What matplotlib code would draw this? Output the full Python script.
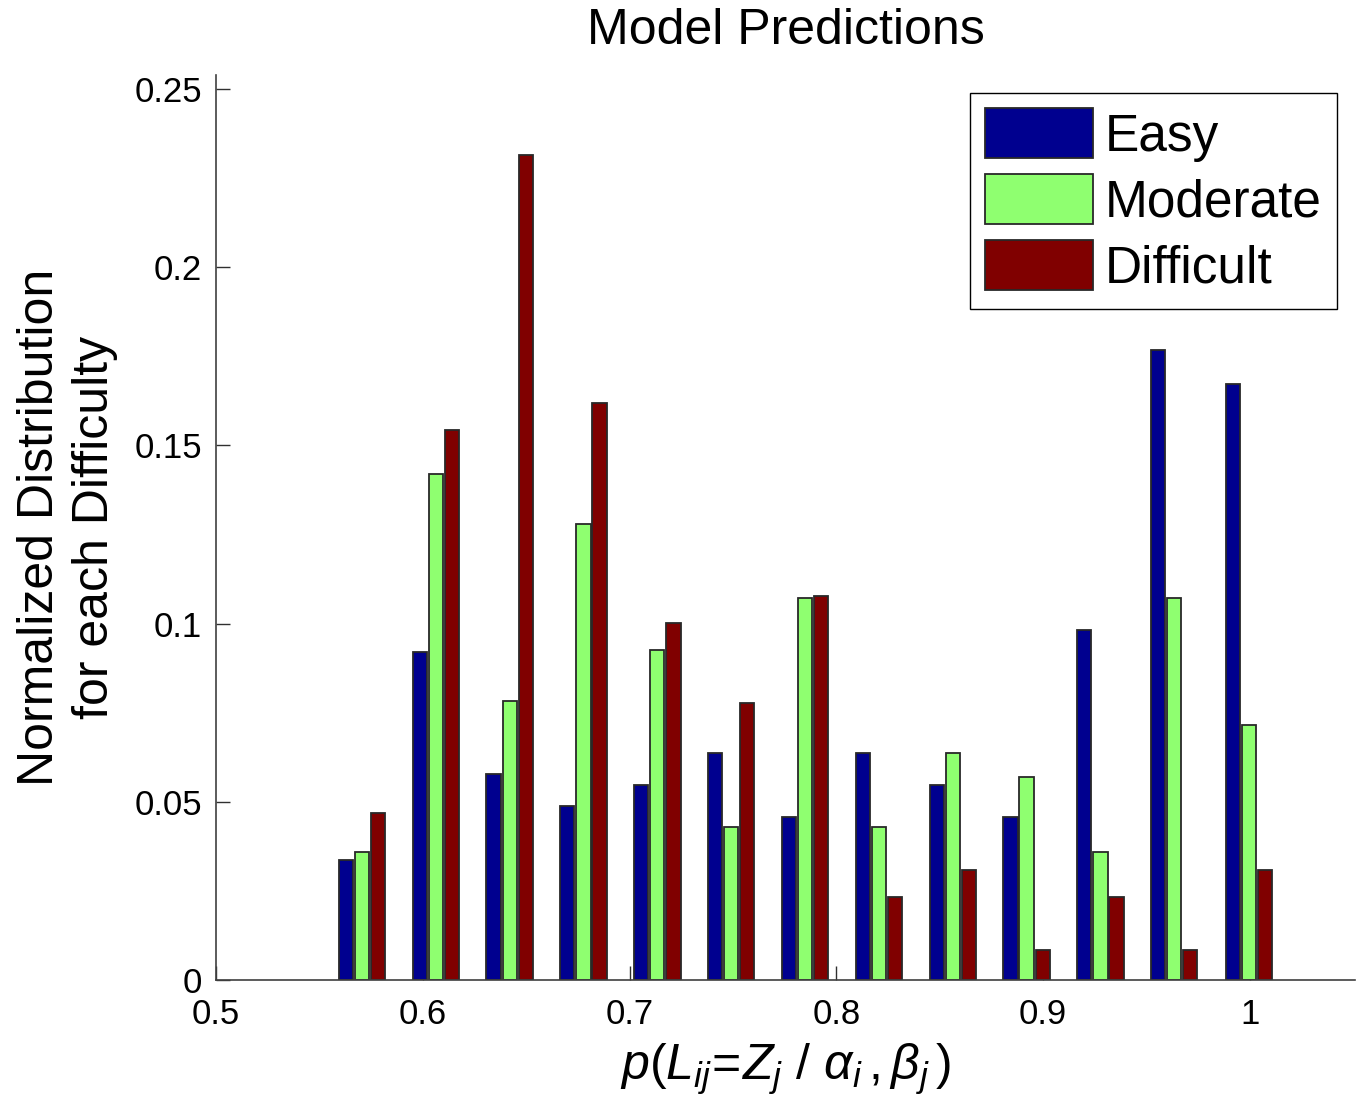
import numpy as np
import matplotlib
matplotlib.use('Agg')
import matplotlib.pyplot as plt

plt.rcParams['font.family'] = ['Liberation Sans', 'DejaVu Sans']
plt.rcParams['mathtext.fontset'] = 'custom'
plt.rcParams['mathtext.rm'] = 'Liberation Sans'
plt.rcParams['mathtext.it'] = 'Liberation Sans:italic'

# bin centres
bin_centers = [0.5706, 0.6063, 0.6420, 0.6777, 0.7134, 0.7491, 0.7848,
               0.8206, 0.8563, 0.8920, 0.9277, 0.9634, 0.9995]

easy = [0.0338, 0.0919, 0.0578, 0.0487, 0.0547, 0.0637, 0.0458,
        0.0637, 0.0547, 0.0458, 0.0981, 0.1768, 0.1672]
moderate = [0.0360, 0.1420, 0.0782, 0.1280, 0.0927, 0.0428, 0.1071,
            0.0428, 0.0637, 0.0570, 0.0360, 0.1071, 0.0715]
difficult = [0.0468, 0.1542, 0.2314, 0.1618, 0.1001, 0.0776, 0.1077,
             0.0233, 0.0308, 0.0084, 0.0233, 0.0084, 0.0308]

series_names = ['Easy', 'Moderate', 'Difficult']
series_colors = ['#00008F', '#8FFF70', '#800000']

xticks = [0.5, 0.6, 0.7, 0.8, 0.9, 1.0]
xticklabels = ['0.5', '0.6', '0.7', '0.8', '0.9', '1']
yticks = [0, 0.05, 0.1, 0.15, 0.2, 0.25]
yticklabels = ['0', '0.05', '0.1', '0.15', '0.2', '0.25']

fig = plt.figure(figsize=(13.63, 11.15), dpi=100)
ax = fig.add_axes([0.1585, 0.1211, 0.8356, 0.8116])

pitch = 0.0078
bar_w = 0.0069
x = np.array(bin_centers)
for k, (vals, name, col) in enumerate(zip([easy, moderate, difficult], series_names, series_colors)):
    ax.bar(x + (k - 1) * pitch, vals, width=bar_w, color=col,
           edgecolor='#282828', linewidth=1.3, label=name, zorder=2)

ax.set_xlim(0.5, 1.0508)
ax.set_ylim(0, 0.2539)
ax.set_xticks(xticks)
ax.set_xticklabels(xticklabels)
ax.set_yticks(yticks)
ax.set_yticklabels(yticklabels)
ax.tick_params(direction='in', length=10, width=1, labelsize=25, color='#303030')
ax.tick_params(axis='x', pad=13)
ax.tick_params(axis='y', pad=10)
ax.set_axisbelow(True)

for s in ['top', 'right']:
    ax.spines[s].set_visible(False)
for s in ['left', 'bottom']:
    ax.spines[s].set_color('#404040')
    ax.spines[s].set_linewidth(1.2)

ax.set_title('Model Predictions', fontsize=36, pad=22)
ax.set_ylabel('Normalized Distribution\nfor each Difficulty', fontsize=36, labelpad=12,
              linespacing=1.25)
ax.set_xlabel(r'$p(L_{ij}\!=\!Z_j\ /\ \alpha_i\,,\beta_j\,)$', fontsize=36, labelpad=8)

leg = ax.legend(loc='upper right', fontsize=37, fancybox=False, edgecolor='black',
                handlelength=2.1, handleheight=1.1, handletextpad=0.22,
                labelspacing=0.25, borderpad=0.3, borderaxespad=0.35, framealpha=1)
leg.get_frame().set_linewidth(1.0)

fig.savefig('out.png', dpi=100)
